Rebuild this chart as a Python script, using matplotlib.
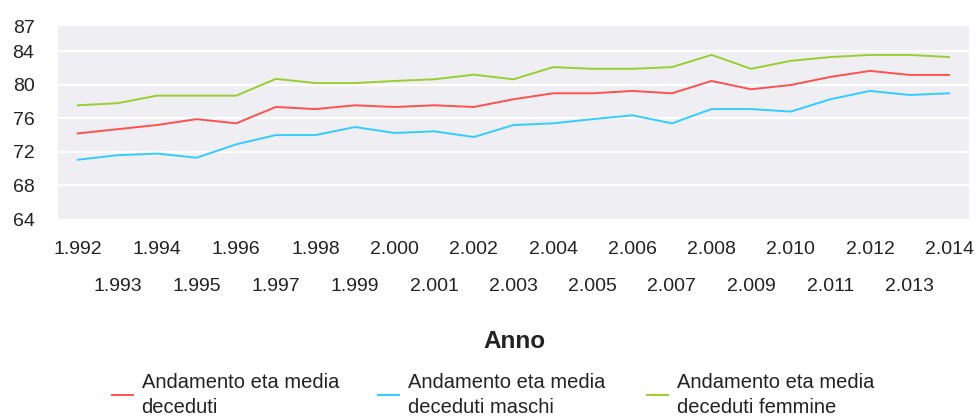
import matplotlib
matplotlib.use("Agg")
import matplotlib.pyplot as plt
from matplotlib.lines import Line2D

years = ["1.992", "1.993", "1.994", "1.995", "1.996", "1.997", "1.998", "1.999",
         "2.000", "2.001", "2.002", "2.003", "2.004", "2.005", "2.006", "2.007",
         "2.008", "2.009", "2.010", "2.011", "2.012", "2.013", "2.014"]

eta_media = [74.2, 74.7, 75.2, 75.9, 75.4, 77.35, 77.1, 77.55, 77.35, 77.55, 77.35,
             78.27, 78.98, 78.98, 79.26, 78.98, 80.45, 79.46, 79.97, 80.93, 81.65, 81.17, 81.17]
eta_maschi = [71.06, 71.6, 71.8, 71.3, 72.9, 74.0, 74.0, 74.96, 74.25, 74.45, 73.77,
              75.2, 75.4, 75.9, 76.36, 75.4, 77.1, 77.1, 76.8, 78.27, 79.26, 78.78, 78.98]
eta_femmine = [77.55, 77.8, 78.7, 78.7, 78.7, 80.7, 80.2, 80.2, 80.45, 80.65, 81.2,
               80.65, 82.1, 81.9, 81.9, 82.1, 83.55, 81.9, 82.85, 83.3, 83.55, 83.55, 83.3]

series_labels = ["Andamento eta media\ndeceduti",
                 "Andamento eta media\ndeceduti maschi",
                 "Andamento eta media\ndeceduti femmine"]
colors = ["#FF5050", "#33CCFF", "#9ACD32"]
y_ticks = [64, 68, 72, 76, 80, 84, 87]

plt.rcParams['font.family'] = ['Liberation Sans', 'DejaVu Sans']

W, H = 978, 419
fig = plt.figure(figsize=(W / 100, H / 100), dpi=100)
ax = fig.add_axes([58 / W, 1 - 219 / H, (969 - 58) / W, (219 - 26) / H])
ax.set_facecolor("#EFEFF3")
for s in ax.spines.values():
    s.set_visible(False)

x = list(range(len(years)))
for vals, c in zip([eta_media, eta_maschi, eta_femmine], colors):
    ax.plot(x, vals, color=c, lw=1.4, solid_joinstyle="miter")

ax.set_xlim(-0.5, len(years) - 0.5)
ax.set_ylim(64, 87)
ax.set_yticks(y_ticks)
ax.set_yticklabels([str(v) for v in y_ticks])
for v in [68, 72, 76, 80, 84]:
    ax.axhline(v, color="white", lw=1.6, zorder=0.5)

ax.set_xticks(x[0::2])
ax.set_xticklabels(years[0::2])
ax.set_xticks(x[1::2], minor=True)
ax.set_xticklabels(years[1::2], minor=True)
ax.tick_params(axis="x", which="major", length=0, pad=16, labelsize=14, colors="#222222")
ax.tick_params(axis="x", which="minor", length=0, pad=42.5, labelsize=14, colors="#222222")
ax.tick_params(axis="y", length=0, pad=17, labelsize=14, colors="#222222")

fig.text(514 / W, 1 - 341.5 / H, "Anno", ha="center", va="center",
         fontsize=17.5, fontweight="bold", color="#222222")

handle_x = [112, 378, 647]
for hx, lab, c in zip(handle_x, series_labels, colors):
    leg = fig.legend([Line2D([0], [0], color=c, lw=1.4)], [lab],
                     loc="center left", bbox_to_anchor=(hx / W, 1 - 395 / H),
                     frameon=False, borderpad=0, borderaxespad=0,
                     handlelength=1.05, handletextpad=0.42, fontsize=14.5,
                     labelcolor="#222222")
    for t in leg.get_texts():
        t.set_linespacing(1.4)

fig.savefig("out.png", dpi=100)
